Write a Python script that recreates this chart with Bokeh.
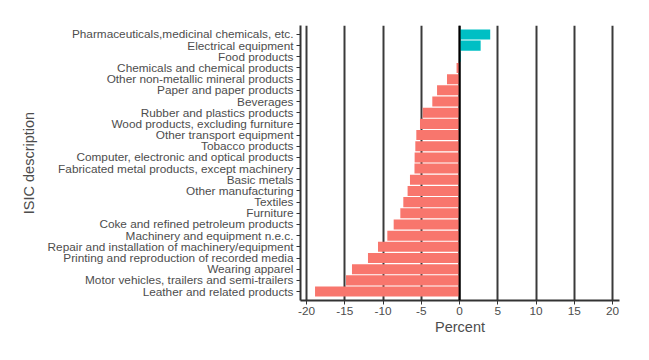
from bokeh.plotting import figure
from bokeh.models import FactorRange, Range1d, FixedTicker, ColumnDataSource, Span
from bokeh.embed import file_html
from bokeh.resources import INLINE

categories = [
    "Pharmaceuticals,medicinal chemicals, etc.",
    "Electrical equipment",
    "Food products",
    "Chemicals and chemical products",
    "Other non-metallic mineral products",
    "Paper and paper products",
    "Beverages",
    "Rubber and plastics products",
    "Wood products, excluding furniture",
    "Other transport equipment",
    "Tobacco products",
    "Computer, electronic and optical products",
    "Fabricated metal products, except machinery",
    "Basic metals",
    "Other manufacturing",
    "Textiles",
    "Furniture",
    "Coke and refined petroleum products",
    "Machinery and equipment n.e.c.",
    "Repair and installation of machinery/equipment",
    "Printing and reproduction of recorded media",
    "Wearing apparel",
    "Motor vehicles, trailers and semi-trailers",
    "Leather and related products",
]
values = [4.0, 2.75, 0.15, -0.4, -1.65, -2.95, -3.57, -4.83, -5.18, -5.66, -5.79,
          -5.88, -5.9, -6.49, -6.8, -7.36, -7.75, -8.62, -9.45, -10.67, -11.98,
          -14.07, -14.85, -18.9]
x_ticks = [-20, -15, -10, -5, 0, 5, 10, 15, 20]
x_tick_labels = ["-20", "-15", "-10", "-5", "0", "5", "10", "15", "20"]

POS, NEG = "#00BFC4", "#F8766D"
colors = [POS if v > 0 else NEG for v in values]

src = ColumnDataSource(dict(cat=categories, val=values, zero=[0] * len(values), color=colors))

p = figure(
    width=633, height=344,
    y_range=FactorRange(factors=list(reversed(categories)), range_padding=0.3,
                        range_padding_units="absolute"),
    x_range=Range1d(-20.8, 20.9),
    output_backend="svg", toolbar_location=None,
    min_border_left=300, min_border_right=14, min_border_top=25, min_border_bottom=44,
)
p.hbar(y="cat", left="zero", right="val", height=0.9, color="color",
       line_color=None, source=src)

p.xaxis.ticker = FixedTicker(ticks=x_ticks)
p.xaxis.major_label_overrides = {t: s for t, s in zip(x_ticks, x_tick_labels)}
p.xgrid.ticker = FixedTicker(ticks=x_ticks)
p.xgrid.grid_line_color = "#3a3a3a"
p.xgrid.grid_line_width = 2
p.ygrid.grid_line_color = None
p.add_layout(Span(location=0, dimension="height", line_color="black", line_width=2))

p.outline_line_color = None
p.background_fill_color = "white"
p.border_fill_color = "white"

for ax in (p.xaxis, p.yaxis):
    ax.axis_line_color = "#333333"
    ax.axis_line_width = 2
    ax.major_tick_line_color = "#333333"
    ax.major_tick_line_width = 1
    ax.major_tick_in = 0
    ax.major_tick_out = 4
    ax.minor_tick_line_color = None
    ax.major_label_text_font = "Liberation Sans"
    ax.major_label_text_font_size = "11.8px"
    ax.major_label_text_color = "#4D4D4D"
    ax.axis_label_text_font = "Liberation Sans"
    ax.axis_label_text_font_size = "14.5px"
    ax.axis_label_text_color = "#4D4D4D"
    ax.axis_label_text_font_style = "normal"

p.xaxis.axis_label = "Percent"
p.yaxis.axis_label = "ISIC description"
p.xaxis.major_label_standoff = 2
p.yaxis.major_label_standoff = 3
p.yaxis.axis_label_standoff = 8
p.xaxis.axis_label_standoff = 1

open("out.html", "w").write(file_html(p, INLINE))
